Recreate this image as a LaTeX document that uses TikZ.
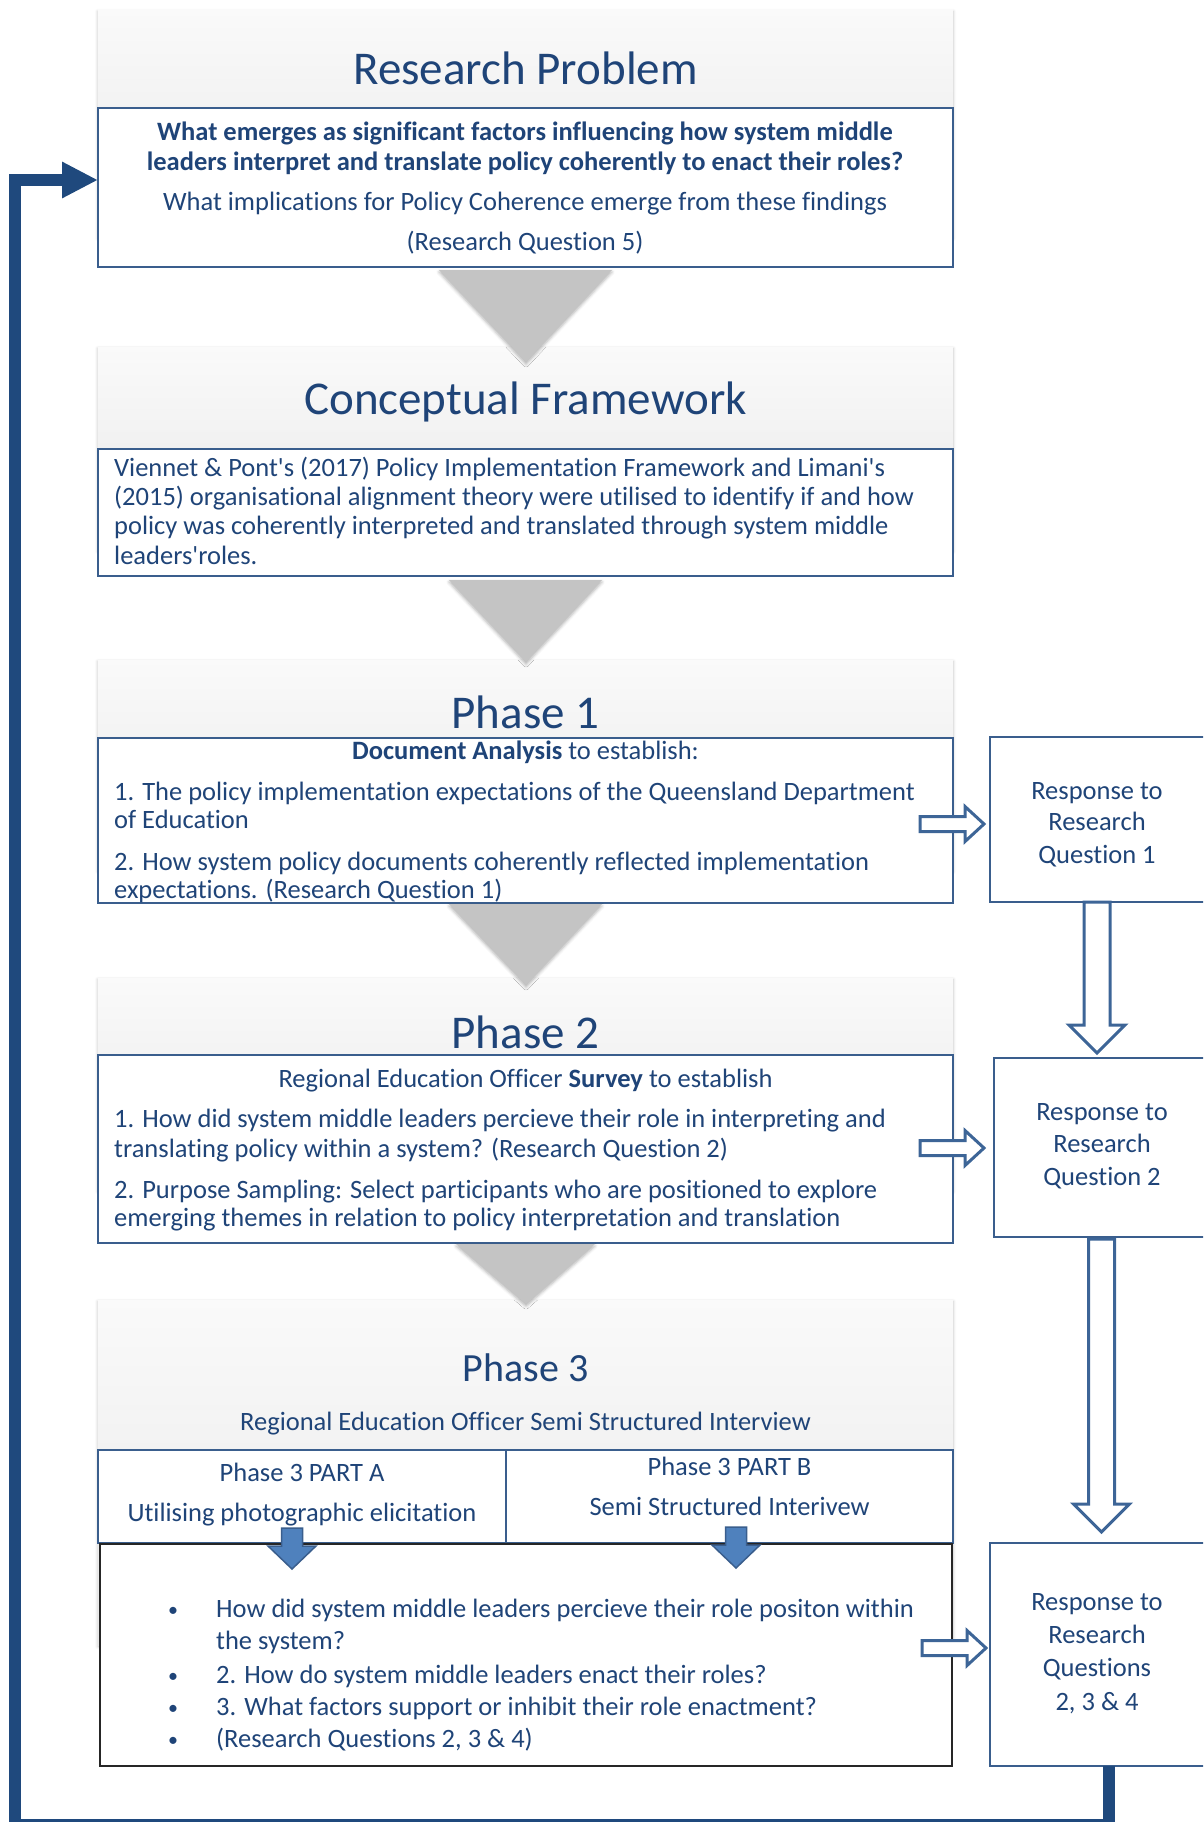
\documentclass[tikz,border=0pt]{standalone}
\usepackage{fontspec}
\setmainfont[Ligatures=NoCommon]{Carlito}
\usetikzlibrary{arrows.meta,shadows.blur,calc}

\definecolor{ink}{HTML}{1F4478}
\definecolor{edge}{HTML}{3A5E8D}
\definecolor{navy}{HTML}{1F497D}
\definecolor{hollowblue}{HTML}{3D6597}
\definecolor{fillblue}{HTML}{4F81BD}

\tikzset{
  panel/.style={draw=none, top color=black!2, bottom color=black!9,
    inner sep=0pt, outer sep=0pt,
    blur shadow={shadow xshift=0pt, shadow yshift=-1.5pt, shadow blur radius=3pt, shadow opacity=25}},
  bluebox/.style={draw=edge, line width=2pt, fill=white, inner sep=0pt, outer sep=0pt},
  blackbox/.style={draw=black!85, line width=1.6pt, fill=white, inner sep=0pt, outer sep=0pt},
  greyarrow/.style={fill=black!23, draw=none,
    blur shadow={shadow xshift=0pt, shadow yshift=-2pt, shadow blur radius=3pt, shadow opacity=30}},
  hollowarrow/.style={draw=hollowblue, line width=3pt, fill=white, line join=miter},
  solidarrow/.style={draw=edge, line width=1.5pt, fill=fillblue, line join=miter},
  feedback/.style={draw=navy, line width=12pt, line join=miter,
    -{Triangle[length=36pt,width=34pt]}},
  txt/.style={text=ink, inner sep=0pt, font=\fontsize{26.5}{30}\selectfont},
  tl/.style={txt, anchor=mid west},
  tc/.style={txt, anchor=mid},
  ttl/.style={text=ink, inner sep=0pt, anchor=mid, font=\fontsize{47}{52}\selectfont},
  pics/rarr/.style={code={
    \draw[hollowarrow] (-64,-7.5) -- (-19,-7.5) -- (-19,-17.5) -- (0,0)
      -- (-19,17.5) -- (-19,7.5) -- (-64,7.5) -- cycle;}},
  pics/darr/.style={code={
    \draw[hollowarrow] (-13,0) -- (-13,#1) -- (-28,#1) -- (0,{#1+28})
      -- (28,#1) -- (13,#1) -- (13,0) -- cycle;}},
  pics/barr/.style={code={
    \draw[solidarrow] (-10.5,0) -- (-10.5,18) -- (-24,18) -- (0,41)
      -- (24,18) -- (10.5,18) -- (10.5,0) -- cycle;}},
}

\begin{document}
\begin{tikzpicture}[x=1pt, y=-1pt]
\useasboundingbox (0,0) rectangle (1203,1822);
\clip (0,0) rectangle (1203,1822);

% grey header panels
\node[panel, minimum width=855pt, minimum height=227pt] (rpP) at (525.5,123.5) {};
\node[panel, minimum width=855pt, minimum height=203pt] (cfP) at (525.5,448.5) {};
\node[panel, minimum width=855pt, minimum height=210pt] (p1P) at (525.5,765) {};
\node[panel, minimum width=855pt, minimum height=212pt] (p2P) at (525.5,1084) {};
\node[panel, minimum width=855pt, minimum height=345pt] (p3P) at (525.5,1472.5) {};

% content boxes
\node[bluebox, minimum width=855pt, minimum height=159pt] (rpB) at (525.5,187.5) {};
\node[bluebox, minimum width=855pt, minimum height=127pt] (cfB) at (525.5,512.5) {};
\node[bluebox, minimum width=855pt, minimum height=165pt] (p1B) at (525.5,820.5) {};
\node[bluebox, minimum width=855pt, minimum height=188pt] (p2B) at (525.5,1149) {};
\node[bluebox, minimum width=408pt, minimum height=93pt] (paB) at (302,1496.5) {};
\node[bluebox, minimum width=447pt, minimum height=93pt] (pbB) at (729.5,1496.5) {};
\node[blackbox, minimum width=852pt, minimum height=222pt] (qB) at (526,1655) {};

% response boxes
\node[bluebox, minimum width=225pt, minimum height=165pt] (r1) at (1102.5,819.5) {};
\node[bluebox, minimum width=221pt, minimum height=179pt] (r2) at (1104.5,1147.5) {};
\node[bluebox, minimum width=225pt, minimum height=223pt] (r3) at (1102.5,1654.5) {};

% grey flow arrows between stages
\fill[greyarrow] ($(rpB.south)+(-86.5,3)$) -- ($(rpB.south)+(86.5,3)$) -- ($(rpB.south)+(0.5,95)$) -- cycle;
\fill[greyarrow] ($(cfB.south)+(-76.5,4)$) -- ($(cfB.south)+(76.5,4)$) -- ($(cfB.south)+(0.5,86)$) -- cycle;
\fill[greyarrow] ($(p1B.south)+(-76.5,1)$) -- ($(p1B.south)+(76.5,1)$) -- ($(p1B.south)+(0.5,82)$) -- cycle;
\fill[greyarrow] ($(p2B.south)+(-69.5,1)$) -- ($(p2B.south)+(69.5,1)$) -- ($(p2B.south)+(0.5,61)$) -- cycle;

% Research Problem
\node[ttl] (rpT) at (525.5,82) {Research Problem};
\node[tc, font=\fontsize{26.5}{30}\selectfont\bfseries] (rp1) at (525,138) {What emerges as significant factors influencing how system middle};
\node[tc, font=\fontsize{26.5}{30}\selectfont\bfseries] (rp2) at (525,168) {leaders interpret and translate policy coherently to enact their roles?};
\node[tc] (rp3) at (525,208) {What implications for Policy Coherence emerge from these findings};
\node[tc] (rp4) at (525,248) {(Research Question 5)};

% Conceptual Framework
\node[ttl] (cfT) at (525.5,412) {Conceptual Framework};
\node[tl] (cf1) at (114,474) {Viennet \& Pont\textquotesingle s (2017) Policy Implementation Framework and Limani\textquotesingle s};
\node[tl] (cf2) at (114,503) {(2015) organisational alignment theory were utilised to identify if and how};
\node[tl] (cf3) at (114,532) {policy was coherently interpreted and translated through system middle};
\node[tl] (cf4) at (114,562) {leaders\textquotesingle roles.};

% Phase 1
\node[ttl] (p1T) at (525.5,726) {Phase 1};
\node[tc] (p1a) at (525.5,757) {\textbf{Document Analysis} to establish:};
\node[tl] (p1b) at (114,798) {1. The policy implementation expectations of the Queensland Department};
\node[tl] (p1c) at (114,826) {of Education};
\node[tl] (p1d) at (114,868) {2. How system policy documents coherently reflected implementation};
\node[tl] (p1e) at (114,896) {expectations. (Research Question 1)};

% Phase 2
\node[ttl] (p2T) at (525.5,1046) {Phase 2};
\node[tc] (p2a) at (525.5,1085) {Regional Education Officer \textbf{Survey} to establish};
\node[tl] (p2b) at (114,1125) {1. How did system middle leaders percieve their role in interpreting and};
\node[tl] (p2c) at (114,1155) {translating policy within a system? (Research Question 2)};
\node[tl] (p2d) at (114,1196) {2. Purpose Sampling: Select participants who are positioned to explore};
\node[tl] (p2e) at (114,1224) {emerging themes in relation to policy interpretation and translation};

% Phase 3
\node[ttl, font=\fontsize{40}{44}\selectfont] (p3T) at (525.5,1379) {Phase 3};
\node[tc] (p3a) at (525.5,1428) {Regional Education Officer Semi Structured Interview};
\node[tc] (paT1) at (302,1479) {Phase 3 PART A};
\node[tc] (paT2) at (302,1519) {Utilising photographic elicitation};
\node[tc] (pbT1) at (729.5,1473) {Phase 3 PART B};
\node[tc] (pbT2) at (729.5,1513) {Semi Structured Interivew};

% bullet list
\node[tc, font=\fontsize{20}{24}\selectfont] (qb1) at (173,1614) {\textbullet};
\node[tc, font=\fontsize{20}{24}\selectfont] (qb2) at (173,1680) {\textbullet};
\node[tc, font=\fontsize{20}{24}\selectfont] (qb3) at (173,1712) {\textbullet};
\node[tc, font=\fontsize{20}{24}\selectfont] (qb4) at (173,1744) {\textbullet};
\node[tl] (q1) at (216,1615) {How did system middle leaders percieve their role positon within};
\node[tl] (q1b) at (216,1647) {the system?};
\node[tl] (q2) at (216,1681) {2. How do system middle leaders enact their roles?};
\node[tl] (q3) at (216,1713) {3. What factors support or inhibit their role enactment?};
\node[tl] (q4) at (216,1745) {(Research Questions 2, 3 \& 4)};

% response texts
\node[tc] (r1a) at (1097,797) {Response to};
\node[tc] (r1b) at (1097,828) {Research};
\node[tc] (r1c) at (1097,861) {Question 1};
\node[tc] (r2a) at (1102,1118) {Response to};
\node[tc] (r2b) at (1102,1150) {Research};
\node[tc] (r2c) at (1102,1183) {Question 2};
\node[tc] (r3a) at (1097,1608) {Response to};
\node[tc] (r3b) at (1097,1641) {Research};
\node[tc] (r3c) at (1097,1674) {Questions};
\node[tc] (r3d) at (1097,1708) {2, 3 \& 4};

% hollow arrows towards the responses
\pic at ($(r1.west)+(-6,4.5)$) {rarr};
\pic at ($(r2.west)+(-10,0.5)$) {rarr};
\pic at ($(r3.west)+(-4,-6.5)$) {rarr};
\pic at ($(r1.south -| 1097,0)+(0,0)$) {darr=123};
\pic at ($(r2.south -| 1101.5,0)+(0,2)$) {darr=265};

% solid arrows from the two parts into the question list
\pic at ($(paB.south -| 292,0)+(0,-15)$) {barr};
\pic at ($(pbB.south -| 736,0)+(0,-16)$) {barr};

% feedback loop back to the research problem
\coordinate (fbA) at (1108.5,1825);
\coordinate (fbB) at (14.5,1825);
\coordinate (fbC) at (14.5,180);
\draw[feedback] (r3.south -| fbA) -- (fbA) -- (fbB) -- (fbC) -- (fbC -| rpB.west);
\end{tikzpicture}
\end{document}
